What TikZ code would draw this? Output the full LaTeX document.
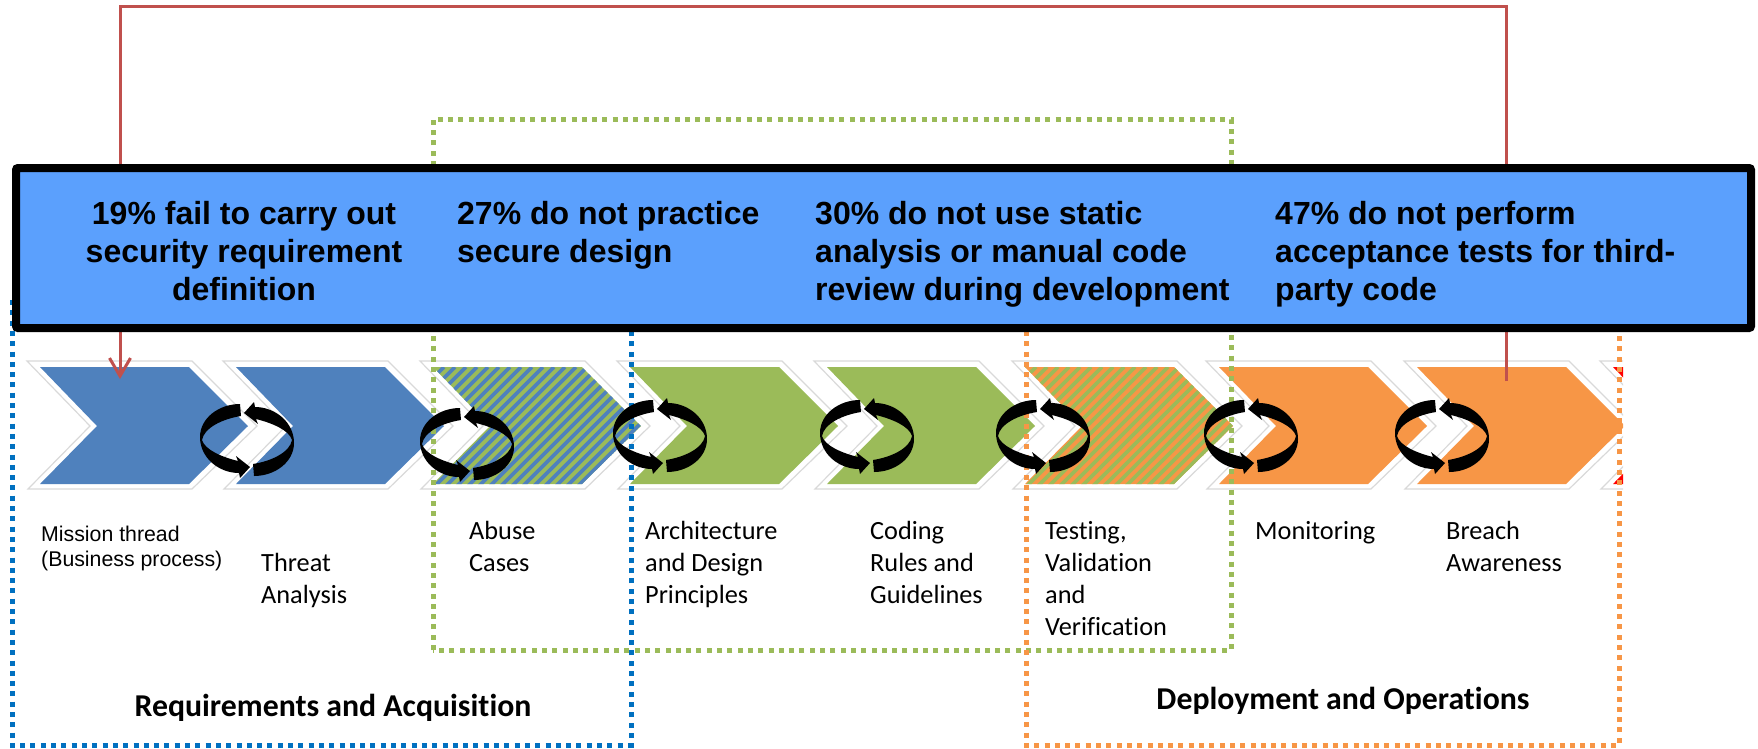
\documentclass[tikz,border=0pt]{standalone}
\usepackage{fontspec}
\setmainfont[Ligatures=CommonOff]{Carlito}
\newfontfamily\arialfont{Liberation Sans}
\usetikzlibrary{arrows.meta}
\definecolor{chevblue}{HTML}{4F81BD}
\definecolor{chevgreen}{HTML}{9BBB59}
\definecolor{chevorange}{HTML}{F79646}
\definecolor{barblue}{HTML}{5BA0FD}
\definecolor{boxblue}{HTML}{0070C0}
\definecolor{linkred}{HTML}{C0504D}
\newcommand{\chevpath}{(0,0) -- (149,0) -- (208,59) -- (149,117) -- (0,117) -- (57,59) -- cycle}
\newcommand{\halopath}{(-13,-6) -- (152,-6) -- (217,59) -- (152,122) -- (-12,122) -- (50,59) -- cycle}
\newcommand{\swirlpath}{(-7,-36) .. controls (-28,-36) and (-47,-22) .. (-47,-3)
    .. controls (-47,18) and (-28,33) .. (-8,33) -- (-7,38) -- (3,27) -- (-11,16) -- (-9,21)
    .. controls (-25,17) and (-42,10) .. (-45,0) .. controls (-43,-12) and (-25,-21) .. (-6,-24) -- cycle}
\begin{document}
\begin{tikzpicture}[
        x=1pt, y=-1pt,
        halo/.style={draw=gray!30, line width=1.2pt, fill=white},
        dotbox/.style={line width=5pt, dash pattern=on 5pt off 5.3pt},
        bar/.style={draw=black, line width=8pt, fill=barblue, rounded corners=2pt, minimum width=1735pt, minimum height=160pt},
        bartext/.style={font=\arialfont\bfseries\fontsize{32}{38}\selectfont, align=left, inner sep=0pt, anchor=north west},
        steptext/.style={font=\fontsize{26.3}{32}\selectfont, align=left, inner sep=0pt, anchor=north west},
        phasetext/.style={font=\bfseries\fontsize{31.8}{36}\selectfont, inner sep=0pt},
        pics/swirl/.style={code={
            \fill[black] \swirlpath;
            \fill[black, rotate=180] \swirlpath;
        }}
    ]
        \useasboundingbox (0,0) rectangle (1758,748);

        % Chevrons
        \begin{scope}
            \clip (0,0) rectangle (1623,748);
            \foreach \x/\col in {40/chevblue, 236/chevblue, 433/chevgreen, 630/chevgreen, 827/chevgreen, 1025/chevorange, 1219/chevorange, 1417/chevorange, 1613/red} {
                \begin{scope}[shift={(\x,367)}]
                    \draw[halo] \halopath;
                    \fill[\col] \chevpath;
                \end{scope}
            }
            % Hatched chevrons
            \foreach \x/\col in {433/chevblue, 1025/chevgreen} {
                \begin{scope}[shift={(\x,367)}]
                    \clip \chevpath;
                    \foreach \s in {-120,-109,...,210}
                        \draw[\col, line width=3.8pt] (\s,120) -- (\s+120,0);
                \end{scope}
            }
        \end{scope}

        % Dotted boxes
        \draw[dotbox, boxblue] (12,300) -- (12,745) -- (631,745) -- (631,300);
        \draw[dotbox, chevgreen] (433,650) -- (433,119) -- (1231,119) -- (1231,650) -- cycle;
        \draw[dotbox, chevorange] (1026,300) -- (1026,745) -- (1619,745) -- (1619,300);

        % Cycle arrows
        \foreach \x/\y/\n in {247/440/a, 467/444/b, 660/436/c, 867/436/d, 1043/436/e, 1251/436/f, 1442/436/g}
            \pic (swirl\n) at (\x,\y) {swirl};

        % Red link
        \coordinate (linkstart) at (1506,381);
        \coordinate (linktop) at (800,6);
        \coordinate (linkend) at (120,379);
        \draw[linkred, line width=3pt, -{Straight Barb[length=18pt, width=21pt]}] (linkstart) |- (linktop) -| (linkend);

        % Banner
        \node[bar] (banner) at (883.5,248) {};
        \node[bartext, align=center, anchor=north] (failreq) at (244,201) {19\% fail to carry out\\security requirement\\definition};
        \node[bartext] (faildesign) at (457,201) {27\% do not practice\\secure design};
        \node[bartext] (failstatic) at (815,201) {30\% do not use static\\analysis or manual code\\review during development};
        \node[bartext] (failtests) at (1275,201) {47\% do not perform\\acceptance tests for third-\\party code};

        % Step labels
        \node[inner sep=0pt, anchor=north west, align=left, font=\arialfont\fontsize{21.3}{25}\selectfont] (mission) at (41,526) {Mission thread\\(Business process)};
        \node[steptext] (threat) at (261,553) {Threat\\Analysis};
        \node[steptext] (abuse) at (469,521) {Abuse\\Cases};
        \node[steptext] (arch) at (645,521) {Architecture\\and Design\\Principles};
        \node[steptext] (coding) at (870,521) {Coding\\Rules and\\Guidelines};
        \node[steptext] (testing) at (1045,521) {Testing,\\Validation\\and\\Verification};
        \node[steptext] (monitor) at (1255,521) {Monitoring};
        \node[steptext] (breach) at (1446,521) {Breach\\Awareness};

        % Phase labels
        \node[phasetext] (reqphase) at (333,708) {Requirements and Acquisition};
        \node[phasetext] (depphase) at (1343,701) {Deployment and Operations};
    \end{tikzpicture}
\end{document}
